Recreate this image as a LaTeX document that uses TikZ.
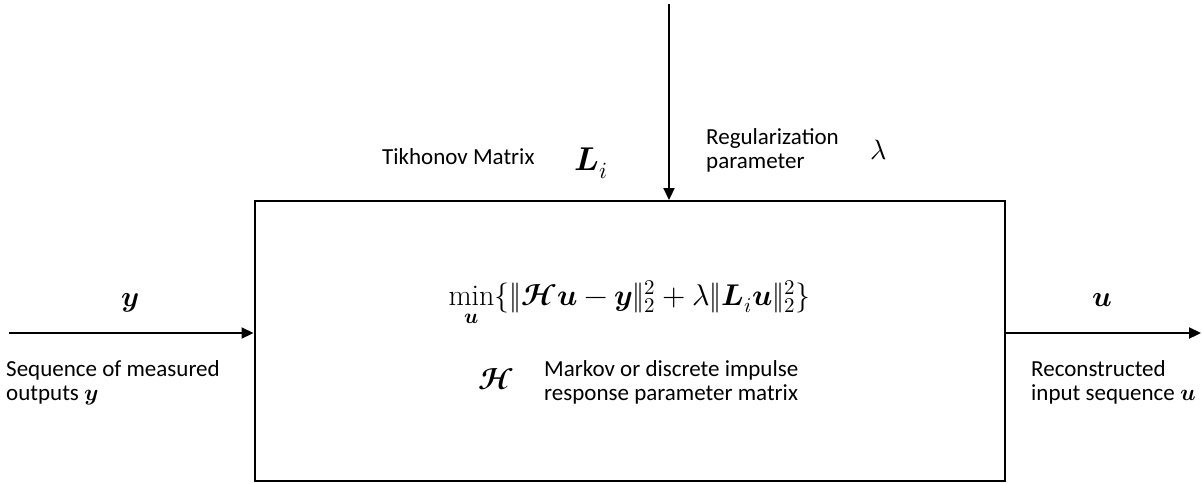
\documentclass[tikz,border=0pt]{standalone}
\usepackage{fontspec}
\usepackage{unicode-math}
\setmainfont{Carlito}
\setmathfont{Latin Modern Math}
\setmathrm{Latin Modern Roman}
\usetikzlibrary{arrows.meta}
\newcommand{\bsu}{\symbfit{u}}
\newcommand{\bsy}{\symbfit{y}}
\newcommand{\bsH}{\symbfscr{H}}
\tikzset{
  txt/.style={inner sep=0pt, font=\fontsize{23}{23.5}\selectfont, align=left},
  mth/.style={inner sep=0pt},
  flow/.style={line width=2.2pt, -{Triangle[length=12pt,width=11pt]}},
  blockbox/.style={draw, line width=2pt, minimum width=750pt, minimum height=280pt, inner sep=0pt}
}
\begin{document}
\begin{tikzpicture}[x=1pt,y=-1pt]
\useasboundingbox (0,0) rectangle (1202,483);
\node[blockbox] (box) at (629.5,341) {};
\coordinate (lamsrc) at (669,4);
\coordinate (yin) at (9,333);
\coordinate (uout) at (1201,333);
\draw[flow] (lamsrc) -- (lamsrc |- box.north);
\draw[flow] (yin) -- (yin -| box.west);
\draw[flow] (uout -| box.east) -- (uout);
% labels above
\node[txt, anchor=base west] (tikh) at (382,164) {Tikhonov Matrix};
\node[mth, anchor=base west, font=\fontsize{33}{33}\selectfont] (Li) at (574,170) {$\symbfit{L}_i$};
\node[txt, anchor=base west] (reg) at (706,168) {Regularization\\parameter};
\node[mth, anchor=base, font=\fontsize{28}{28}\selectfont] (lam) at (879,159) {$\lambda$};
% formula
\node[mth, anchor=base, font=\fontsize{30}{30}\selectfont] (form) at (629.5,305)
  {$\displaystyle\min_{\bsu}\{\|\bsH\bsu-\bsy\|_2^2+\lambda\|\symbfit{L}_i\bsu\|_2^2\}$};
\node[mth, anchor=base, font=\fontsize{29}{29}\selectfont] (ylab) at (130,306) {$\bsy$};
\node[mth, anchor=base, font=\fontsize{29}{29}\selectfont] (ulab) at (1102,306) {$\bsu$};
% labels below
\node[txt, anchor=base west] (seq) at (6,400) {Sequence of measured\\outputs $\bsy$};
\node[mth, anchor=base, font=\fontsize{30}{30}\selectfont] (Hlab) at (496,389) {$\bsH$};
\node[txt, anchor=base west] (mark) at (544,400) {Markov or discrete impulse\\response parameter matrix};
\node[txt, anchor=base west] (rec) at (1031,400) {Reconstructed\\input sequence $\bsu$};
\end{tikzpicture}
\end{document}
